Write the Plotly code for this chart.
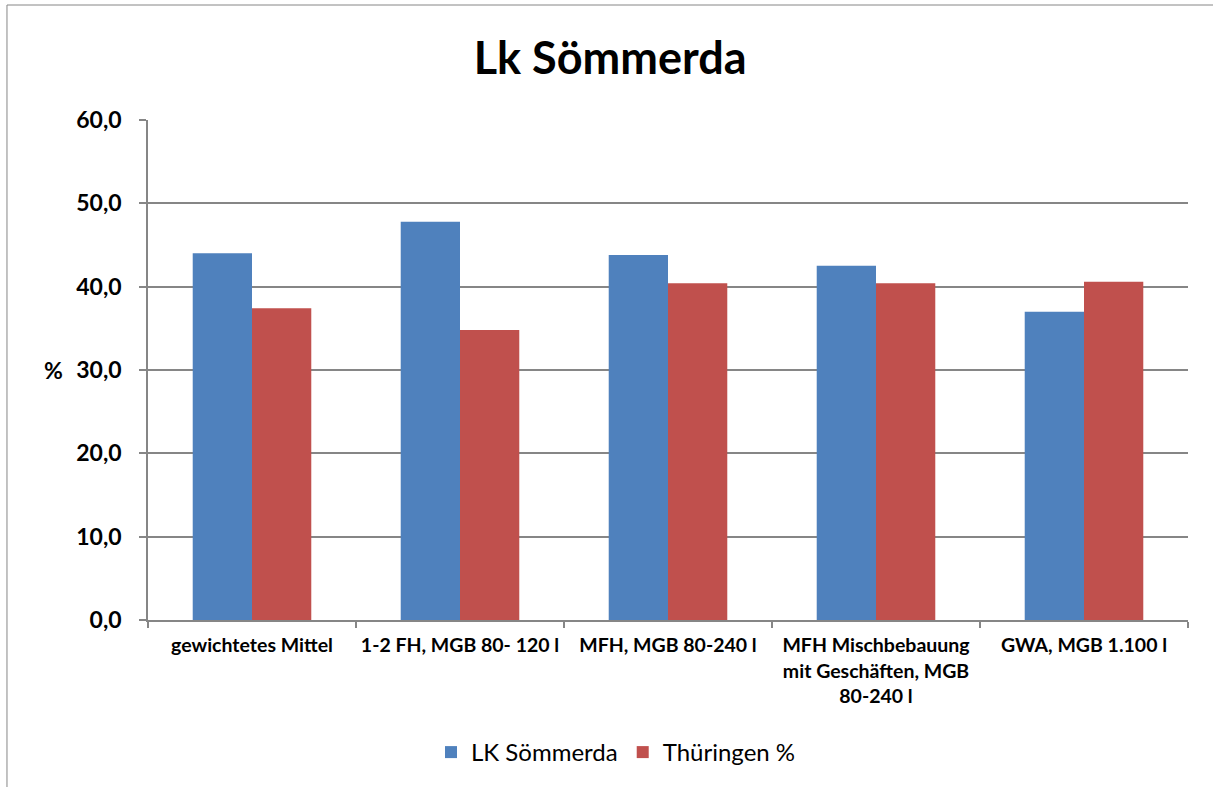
import plotly.graph_objects as go

categories = ["gewichtetes Mittel", "1-2 FH, MGB 80- 120 l", "MFH, MGB 80-240 l",
              "MFH Mischbebauung<br>mit Geschäften, MGB<br>80-240 l", "GWA, MGB 1.100 l"]
lk_soemmerda = [44.0, 47.8, 43.8, 42.5, 37.0]
thueringen = [37.4, 34.8, 40.4, 40.4, 40.6]
y_ticks = [0, 10, 20, 30, 40, 50, 60]

FONT = "Lato, Calibri, sans-serif"
GRAY = "#868686"

fig = go.Figure()
fig.add_trace(go.Bar(x=categories, y=lk_soemmerda, name="LK Sömmerda",
                     marker=dict(color="#4F81BD", line=dict(width=0))))
fig.add_trace(go.Bar(x=categories, y=thueringen, name="Thüringen %",
                     marker=dict(color="#C0504D", line=dict(width=0))))

fig.update_layout(
    width=1213, height=787,
    margin=dict(l=148, r=25, t=120, b=167, autoexpand=False),
    paper_bgcolor="white", plot_bgcolor="white",
    separators=", ",
    bargap=0.43, bargroupgap=0,
    font=dict(family=FONT, color="black"),
    title=dict(text="<b>Lk Sömmerda</b>", x=0.503, xanchor="center", y=0.926, yanchor="middle",
               font=dict(size=45, family=FONT, color="black")),
    legend=dict(orientation="h", x=0.45, xanchor="center", y=-0.265, yanchor="middle",
                font=dict(size=24, family=FONT), itemwidth=30, traceorder="normal"),
    xaxis=dict(showline=True, linecolor=GRAY, linewidth=1.5, ticks="outside", tickson="boundaries",
               ticklen=6, tickcolor=GRAY, tickwidth=1.5, showgrid=False, ticklabelstandoff=7,
               tickangle=0, automargin=False,
               tickfont=dict(size=19.5, family=FONT, weight="bold")),
    yaxis=dict(range=[0, 60], tickvals=y_ticks, tickformat=".1f", showline=True, linecolor=GRAY,
               linewidth=1.5, ticks="outside", ticklen=7, tickcolor=GRAY, tickwidth=1.5,
               showgrid=True, gridcolor=GRAY, gridwidth=1.5, zeroline=False, ticklabelstandoff=13,
               automargin=False,
               tickfont=dict(size=23, family=FONT, weight="bold")),
    annotations=[dict(text="<b>%</b>", xref="paper", yref="paper", x=-0.0904, y=0.5,
                      xanchor="center", yanchor="middle", showarrow=False,
                      font=dict(size=23, family=FONT, color="black"))],
    shapes=[dict(type="rect", xref="paper", yref="paper", x0=-0.1356, x1=1.2, y0=-0.5, y1=1.23,
                 line=dict(color=GRAY, width=1), fillcolor="rgba(0,0,0,0)", layer="below")],
)

fig.write_html("out.html", config={"displayModeBar": False},
               post_script="document.body.style.margin='0px';")
